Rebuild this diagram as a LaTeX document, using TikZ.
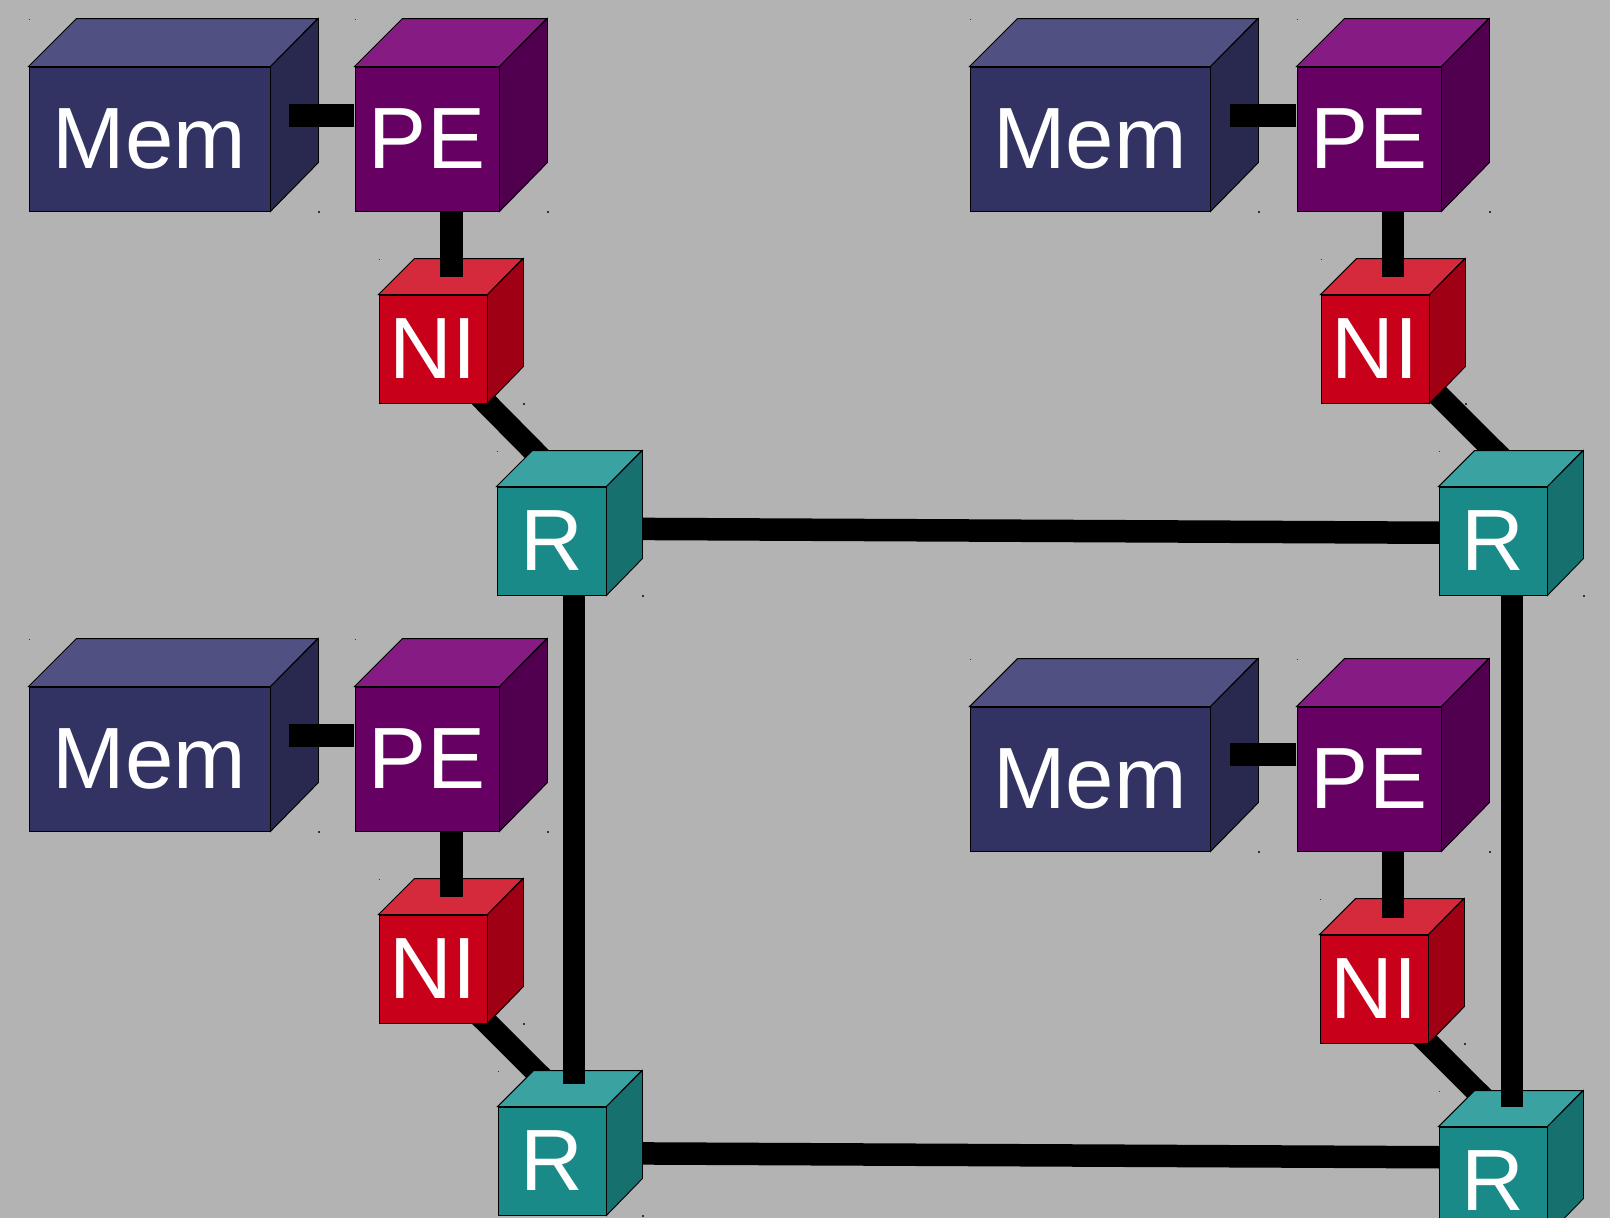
\documentclass[tikz,border=0pt]{standalone}
\usepackage{fontspec}
\setmainfont{Liberation Sans}
\definecolor{bgc}{RGB}{179,179,179}
\definecolor{memF}{RGB}{51,51,99}
\definecolor{memT}{RGB}{80,80,130}
\definecolor{memS}{RGB}{41,41,79}
\definecolor{peF}{RGB}{102,0,98}
\definecolor{peT}{RGB}{133,27,131}
\definecolor{peS}{RGB}{80,0,78}
\definecolor{niF}{RGB}{200,0,26}
\definecolor{niT}{RGB}{212,42,60}
\definecolor{niS}{RGB}{160,0,20}
\definecolor{rF}{RGB}{26,138,136}
\definecolor{rT}{RGB}{58,163,162}
\definecolor{rS}{RGB}{21,112,110}
\pgfdeclarelayer{bg}
\pgfdeclarelayer{back}
\pgfdeclarelayer{front}
\pgfsetlayers{bg,back,main,front}
\tikzset{
  facebox/.style={draw=black, line width=0.9pt, inner sep=0pt, text=white,
    font=\fontsize{87}{100}\selectfont},
  faceline/.style={draw=black, line width=0.9pt, line join=miter},
  conn/.style={line width=22.5pt, draw=black},
  cornerdot/.style={fill=black!80},
}
\newcommand\cubebox[8]{%
  \node[facebox, fill=#7F, minimum width=#4pt, minimum height=#5pt] (#1) at (#2,#3) {#8};
  \filldraw[faceline, fill=#7T] (#1.north west) -- ++(#6,-#6) -- ++(#4,0) -- (#1.north east) -- cycle;
  \filldraw[faceline, fill=#7S] (#1.north east) -- ++(#6,-#6) -- ++(0,#5) -- (#1.south east) -- cycle;
  \fill[cornerdot] ([shift={(0,-#6)}]#1.north west) rectangle ++(1.5,1.5);
  \fill[cornerdot] ([shift={(#6,0)}]#1.south east) rectangle ++(1.5,1.5);
}
\begin{document}
\begin{tikzpicture}[x=1pt,y=-1pt]
\useasboundingbox (0,0) rectangle (1610,1218);
\begin{pgfonlayer}{bg}
  \fill[bgc] (0,0) rectangle (1610,1218);
\end{pgfonlayer}

% top-left group
\cubebox{mem1}{149.5}{139}{241}{144}{48}{mem}{Mem}
\cubebox{pe1}{427}{139}{144}{144}{48}{pe}{PE}
\cubebox{ni1}{433}{349}{108}{108}{36}{ni}{NI}
\begin{pgfonlayer}{front}
\cubebox{r1}{551.5}{541}{109}{108}{36}{r}{R}
\end{pgfonlayer}

% top-right group
\cubebox{mem2}{1090}{139}{240}{144}{48}{mem}{Mem}
\cubebox{pe2}{1369}{139}{144}{144}{48}{pe}{PE}
\cubebox{ni2}{1375}{349}{108}{108}{36}{ni}{NI}
\begin{pgfonlayer}{front}
\cubebox{r2}{1493}{541}{108}{108}{36}{r}{R}
\end{pgfonlayer}

% bottom-left group
\cubebox{mem3}{149.5}{759}{241}{144}{48}{mem}{Mem}
\cubebox{pe3}{427}{759}{144}{144}{48}{pe}{PE}
\cubebox{ni3}{433}{969}{108}{108}{36}{ni}{NI}
\cubebox{r3}{552}{1161}{108}{108}{36}{r}{R}

% bottom-right group
\cubebox{mem4}{1090}{779}{240}{144}{48}{mem}{Mem}
\cubebox{pe4}{1369}{779}{144}{144}{48}{pe}{PE}
\cubebox{ni4}{1374}{989}{108}{108}{36}{ni}{NI}
\cubebox{r4}{1493}{1181}{108}{108}{36}{r}{R}

% connectors behind boxes
\begin{pgfonlayer}{back}
  \draw[conn] (ni1.center) -- ([shift={(17.5,0)}]r1.north);
  \draw[conn] ([shift={(17,0)}]ni2.center) -- ([shift={(37,0)}]r2.north);
  \draw[conn] (ni3.center) -- ([shift={(19,0)}]r3.north);
  \draw[conn] (ni4.center) -- ([shift={(19,0)}]r4.north);
  \draw[conn] ([shift={(0,-12.5)}]r1.center) -- ([shift={(0,-8)}]r2.center);
  \draw[conn] ([shift={(0,-8)}]r3.center) -- ([shift={(0,-23.5)}]r4.center);
\end{pgfonlayer}

% Mem - PE
\draw[conn] ([shift={(19,-23.5)}]mem1.east) -- ([shift={(-0.5,-23.5)}]pe1.west);
\draw[conn] ([shift={(19.5,-23.5)}]mem2.east) -- ([shift={(-0.5,-23.5)}]pe2.west);
\draw[conn] ([shift={(19,-23.5)}]mem3.east) -- ([shift={(-0.5,-23.5)}]pe3.west);
\draw[conn] ([shift={(19.5,-24.5)}]mem4.east) -- ([shift={(-0.5,-24.5)}]pe4.west);

% PE - NI
\draw[conn] ([shift={(24.5,0.5)}]pe1.south) -- ([shift={(18.5,-18)}]ni1.north);
\draw[conn] ([shift={(24,0.5)}]pe2.south) -- ([shift={(18,-18)}]ni2.north);
\draw[conn] ([shift={(24.5,0.5)}]pe3.south) -- ([shift={(18.5,-18)}]ni3.north);
\draw[conn] ([shift={(24,0.5)}]pe4.south) -- ([shift={(19,-17)}]ni4.north);

% R - R vertical
\draw[conn] ([shift={(22.5,0)}]r1.center) -- ([shift={(22,-23)}]r3.north);
\draw[conn] ([shift={(19,0)}]r2.center) -- ([shift={(19,-20)}]r4.north);
\end{tikzpicture}
\end{document}
